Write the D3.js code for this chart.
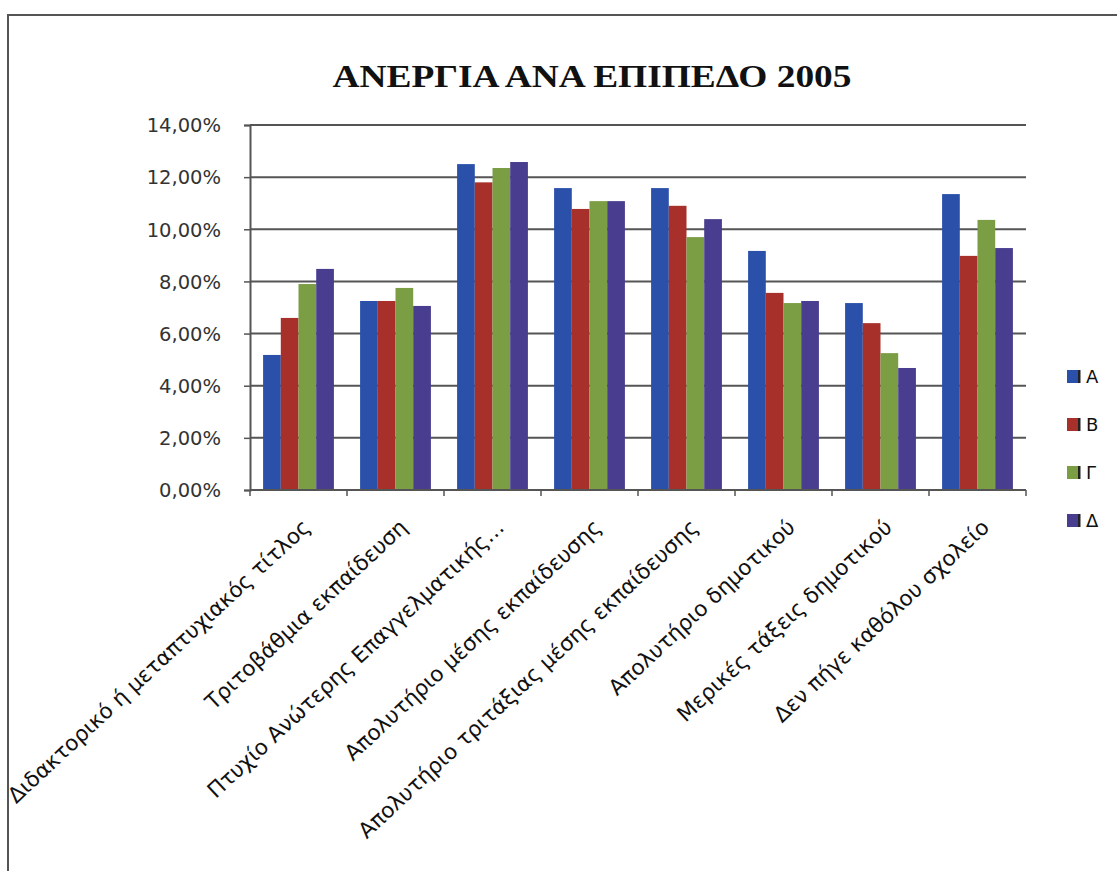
<!DOCTYPE html>
<html><head><meta charset="utf-8">
<script src="https://cdn.jsdelivr.net/npm/d3@7"></script>
<style>body{margin:0;background:#fff}svg{display:block}</style>
</head><body>
<svg id="c" width="1117" height="871"></svg>
<script>
const categories = ["Διδακτορικό ή μεταπτυχιακός τίτλος","Τριτοβάθμια εκπαίδευση","Πτυχίο Ανώτερης Επαγγελματικής…","Απολυτήριο μέσης εκπαίδευσης","Απολυτήριο τριτάξιας μέσης εκπαίδευσης","Απολυτήριο δημοτικού","Μερικές τάξεις δημοτικού","Δεν πήγε καθόλου σχολείο"];
const seriesNames = ["Α","Β","Γ","Δ"];
const valuesA = [5.18, 7.25, 12.50, 11.58, 11.58, 9.17, 7.17, 11.35];
const valuesB = [6.60, 7.25, 11.80, 10.78, 10.90, 7.56, 6.40, 8.98];
const valuesΓ = [7.90, 7.75, 12.35, 11.08, 9.70, 7.17, 5.25, 10.36];
const valuesΔ = [8.48, 7.06, 12.58, 11.08, 10.39, 7.25, 4.68, 9.28];
const yTicks = [0,2,4,6,8,10,12,14];
const title = "ΑΝΕΡΓΙΑ ΑΝΑ ΕΠΙΠΕΔΟ 2005";
const colors = ["#2a50aa","#a8302b","#7b9d44","#483d8e"];

const series = [valuesA, valuesB, valuesΓ, valuesΔ];
const svg = d3.select("#c");
svg.append("defs").append("clipPath").attr("id","fr").append("rect")
  .attr("x",9).attr("y",16).attr("width",1200).attr("height",900);
const root = svg.append("g").attr("clip-path","url(#fr)");

// frame
svg.append("line").attr("x1",8).attr("x2",8).attr("y1",15).attr("y2",871).attr("stroke","#555").attr("stroke-width",2);
svg.append("line").attr("x1",7).attr("x2",1117).attr("y1",15).attr("y2",15).attr("stroke","#555").attr("stroke-width",2);

const L=250, R=1026, T=125, B=490;
const x = d3.scaleBand().domain(categories).range([L,R]).paddingInner(0.27).paddingOuter(0.135);
const xs = d3.scaleBand().domain(seriesNames).range([0,x.bandwidth()]);
const y = d3.scaleLinear().domain([0,14]).range([B,T]);

// title
svg.append("text").attr("x",592).attr("y",87).attr("text-anchor","middle")
  .attr("font-family","Liberation Serif").attr("font-weight","bold").attr("font-size",32)
  .attr("fill","#111").attr("textLength",519).attr("lengthAdjust","spacingAndGlyphs").text(title);

// gridlines
root.append("g").selectAll("line").data(yTicks.filter(d=>d>0)).join("line")
  .attr("x1",L).attr("x2",R).attr("y1",d=>y(d)).attr("y2",d=>y(d))
  .attr("stroke","#555").attr("stroke-width",2);

// bars
const g = root.append("g");
categories.forEach((c,i)=>{
  seriesNames.forEach((s,j)=>{
    g.append("rect").attr("x",x(c)+xs(s)).attr("width",xs.bandwidth())
     .attr("y",y(series[j][i])).attr("height",B-y(series[j][i])).attr("fill",colors[j]);
  });
});

// y axis
const ya = root.append("g").attr("transform",`translate(${L},0)`)
  .call(d3.axisLeft(y).tickValues(yTicks).tickSize(6).tickFormat(d=>d3.format(".2f")(d).replace(".",",")+"%"));
ya.select(".domain").attr("stroke","#555").attr("stroke-width",2);
ya.selectAll(".tick line").attr("stroke","#555").attr("stroke-width",1.5);
ya.selectAll("text").attr("font-family","DejaVu Sans").attr("font-size",19.5).attr("fill","#333").attr("x",-29).attr("dy","0.35em");

// x axis
const xa = root.append("g").attr("transform",`translate(0,${B})`);
xa.append("line").attr("x1",L).attr("x2",R).attr("stroke","#555").attr("stroke-width",2);
const bounds = categories.map(c=>x(c)-x.step()*x.paddingInner()/2).concat([R]);
xa.selectAll(".tk").data(bounds).join("line").attr("class","tk")
  .attr("x1",d=>d).attr("x2",d=>d).attr("y1",0).attr("y2",6).attr("stroke","#555").attr("stroke-width",1.5);
xa.selectAll(".lbl").data(categories).join("text").attr("class","lbl")
  .attr("transform",d=>`translate(${x(d)+x.bandwidth()/2+13},39) rotate(-43)`)
  .attr("text-anchor","end").attr("font-family","DejaVu Sans").attr("font-size",21.5).attr("fill","#111").text(d=>d);

// legend
const lg = root.append("g");
seriesNames.forEach((s,j)=>{
  const yy = 377 + j*48;
  lg.append("rect").attr("x",1067).attr("y",yy-7).attr("width",13).attr("height",13).attr("fill",colors[j]);
  lg.append("rect").attr("x",1078).attr("y",yy-7).attr("width",2.5).attr("height",13).attr("fill","#222");
  lg.append("text").attr("x",1086).attr("y",yy).attr("dy","0.35em").attr("font-family","DejaVu Sans").attr("font-size",18).attr("fill","#111").text(s);
});
</script>
</body></html>
